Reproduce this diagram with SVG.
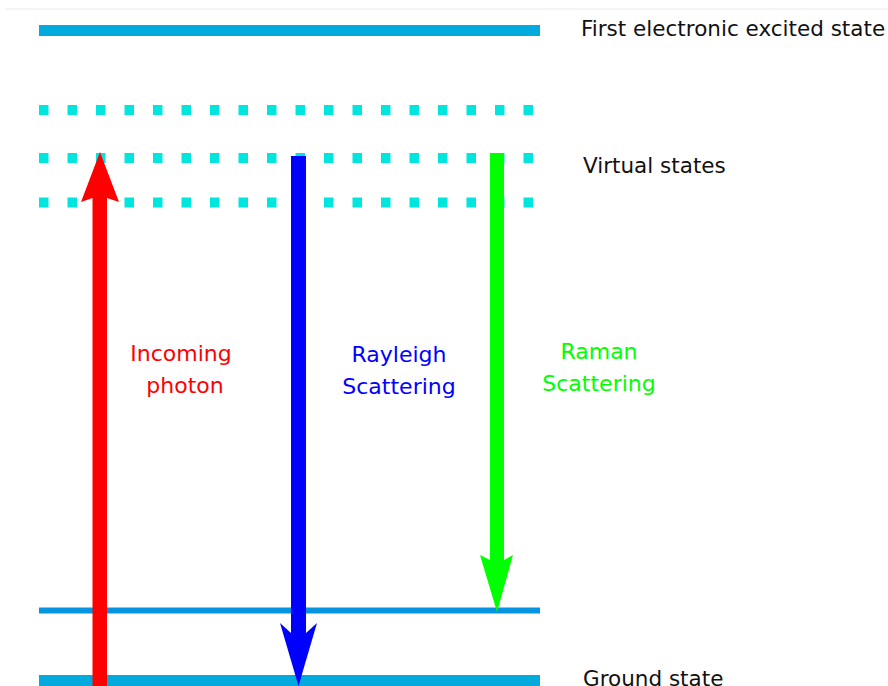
<svg xmlns="http://www.w3.org/2000/svg" width="888" height="686" viewBox="0 0 888 686">
<style>
.lbl{font-family:"DejaVu Sans","Verdana",sans-serif;font-size:21.5px;fill:#111}
.arrlbl{font-family:"DejaVu Sans","Verdana",sans-serif;font-size:22px;text-anchor:middle}
.dots{stroke:#00e5de;stroke-width:10;stroke-dasharray:9.5 19}
</style>
<rect width="888" height="686" fill="#fff"/>
<line x1="5" y1="9" x2="888" y2="9" stroke="#ebebeb" stroke-width="1"/>
<g id="excited-state">
<rect x="39" y="25" width="501" height="11" fill="#00aadd"/>
<text class="lbl" x="581" y="36">First electronic excited state</text>
</g>
<g id="virtual-states">
<line class="dots" x1="39" y1="110" x2="540" y2="110"/>
<line class="dots" x1="39" y1="158" x2="540" y2="158"/>
<line class="dots" x1="39" y1="202.5" x2="540" y2="202.5"/>
<text class="lbl" x="583" y="173">Virtual states</text>
</g>
<g id="vibrational-state">
<rect x="39" y="607.5" width="501" height="6" fill="#0594e0"/>
</g>
<g id="ground-state">
<rect x="39" y="675" width="501" height="11" fill="#00aadd"/>
<text class="lbl" x="583" y="686">Ground state</text>
</g>
<g id="connectors">
<path id="incoming" d="M92.5,686 V198 L81,202 L100,152 L119,202 L107,198 V686 Z" fill="#ff0000"/>
<path id="rayleigh" d="M291,156 V633 L280,623 L298.5,686 L317,623 L306,633 V156 Z" fill="#0000ff"/>
<path id="raman" d="M490,153 V560 L480,555 L497,612 L513,555 L504,560 V153 Z" fill="#00ff00"/>
</g>
<g id="labels">
<text class="arrlbl" fill="#ff0000" x="181" y="361">Incoming</text>
<text class="arrlbl" fill="#ff0000" x="185" y="393">photon</text>
<text class="arrlbl" fill="#0000ff" x="399" y="362">Rayleigh</text>
<text class="arrlbl" fill="#0000ff" x="399" y="394">Scattering</text>
<text class="arrlbl" fill="#00ff00" x="599" y="359">Raman</text>
<text class="arrlbl" fill="#00ff00" x="599" y="391">Scattering</text>
</g>
</svg>
